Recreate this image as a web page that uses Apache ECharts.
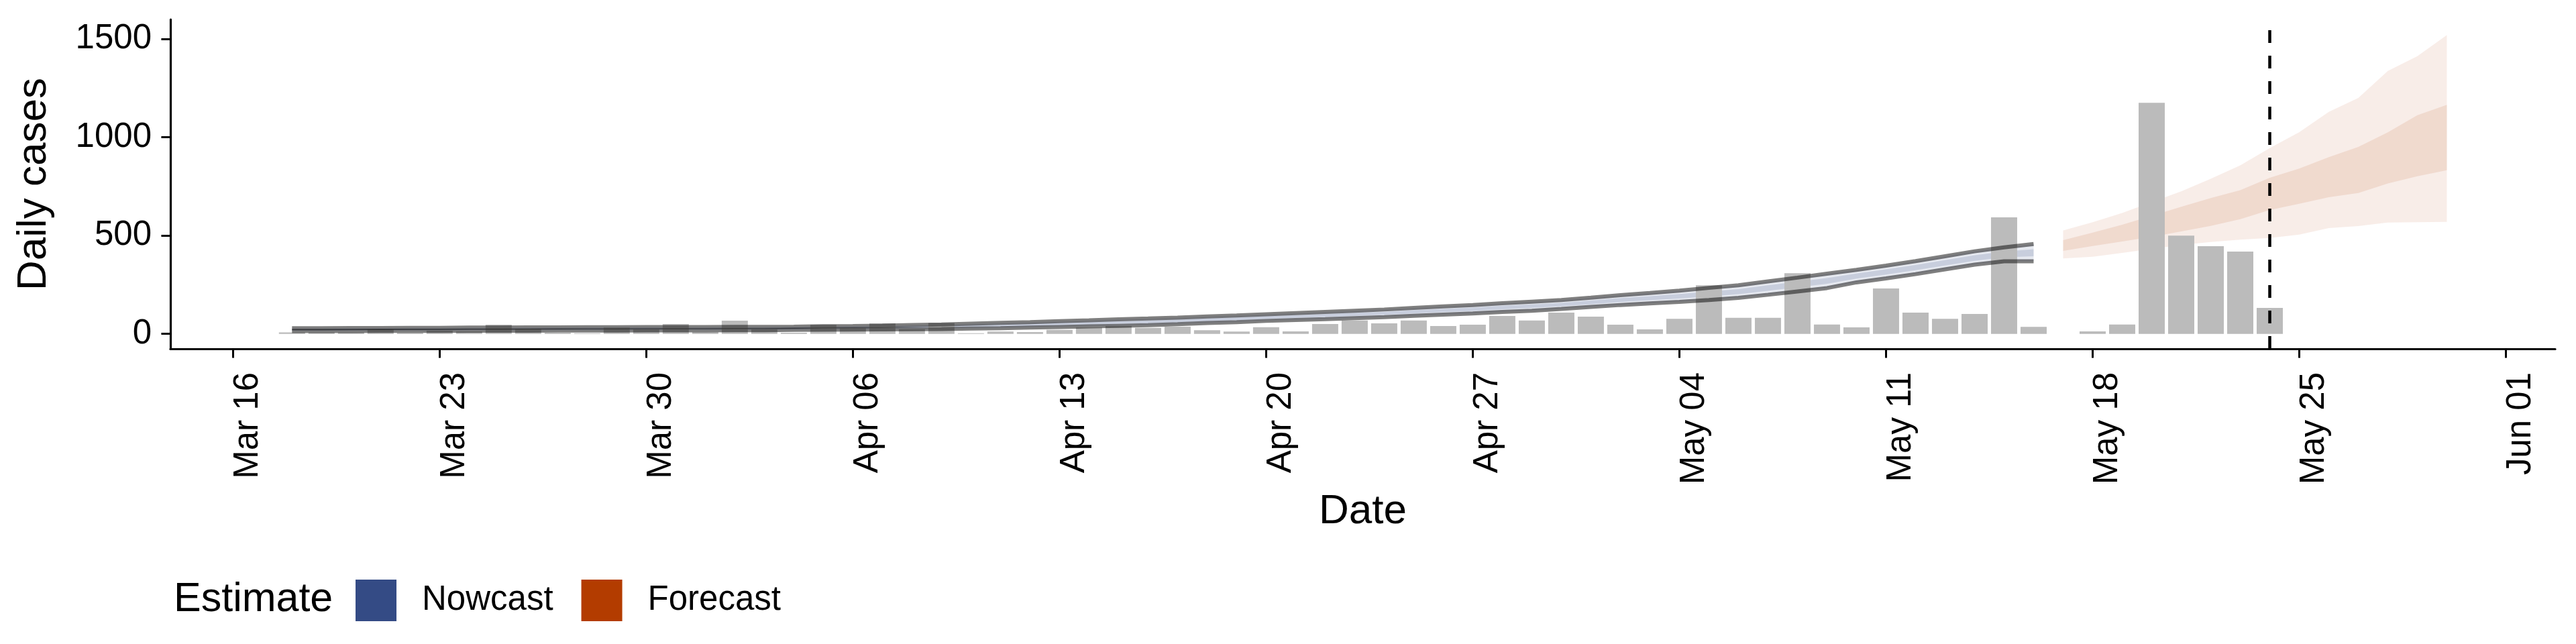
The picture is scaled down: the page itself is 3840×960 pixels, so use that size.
<!DOCTYPE html>
<html>
<head>
<meta charset="utf-8">
<script src="https://cdn.jsdelivr.net/npm/echarts@6/dist/echarts.min.js"></script>
<style>html,body{margin:0;padding:0;background:#fff}#chart{width:3840px;height:960px}</style>
</head>
<body>
<div id="chart"></div>
<script>
// ---- data ----
const tickDates = ['2020-03-16','2020-03-23','2020-03-30','2020-04-06','2020-04-13','2020-04-20','2020-04-27','2020-05-04','2020-05-11','2020-05-18','2020-05-25','2020-06-01'];
const tickLabels = ['Mar 16','Mar 23','Mar 30','Apr 06','Apr 13','Apr 20','Apr 27','May 04','May 11','May 18','May 25','Jun 01'];
const yTicks = [0, 500, 1000, 1500];

const caseStart = '2020-03-18';
const dailyCases = [8,8,8,23,6,16,12,47,26,6,
  3,32,23,50,9,67,24,6,46,31,
  54,24,55,3,12,9,20,32,40,31,
  37,19,12,34,13,50,68,54,68,40,
  47,91,68,108,88,47,23,77,247,82,
  82,309,48,33,231,108,77,101,593,36,
  null,13,48,1175,500,446,419,132];

const nowcastStart = '2020-03-18';
const nowLower90 = [14,14,14,15,15,15,16,16,16,17, 17,17,18,18,18,19,19,20,21,22, 23,24,25,27,29,32,35,38,41,44, 49,55,60,66,71,75,80,85,92,98, 104,112,118,127,137,147,155,163,172,183, 199,216,233,262,282,304,328,352,369,369];
const nowUpper90 = [29,29,30,30,31,31,32,32,33,33, 34,34,35,35,35,36,36,37,39,40, 42,45,48,52,56,60,65,69,74,78, 83,89,94,100,106,112,118,124,132,140, 147,156,164,172,184,197,208,220,234,247, 267,286,306,326,347,370,395,420,440,457];
const nowLower50 = [19,19,19,20,20,20,21,21,21,22, 22,22,23,23,23,24,24,25,26,27, 29,30,32,35,37,40,44,47,51,54, 59,65,70,76,82,86,91,97,104,111, 117,125,132,141,151,162,171,180,191,202, 219,237,255,281,302,324,348,372,390,395];
const nowUpper50 = [24,24,25,25,26,26,27,27,28,28, 29,29,30,30,30,31,31,32,34,35, 36,39,41,45,48,52,56,60,64,68, 73,79,84,90,95,101,107,112,120,127, 134,143,150,158,170,182,192,203,215,228, 247,265,284,307,328,350,375,400,419,431];

const forecastStart = '2020-05-17';
const fcLower90 = [384,392,412,432,452,467,479,488,505,538,548,566,568,570];
const fcLower50 = [422,447,470,494,521,549,583,630,662,695,716,765,802,832];
const fcUpper50 = [477,515,555,600,646,691,731,794,841,899,951,1025,1112,1165];
const fcUpper90 = [526,568,615,670,725,789,857,945,1026,1129,1200,1337,1412,1520];

const estimateDate = '2020-05-24';
const legendNames = ['Nowcast', 'Forecast'];
const legendTitle = 'Estimate';

// ---- helpers ----
const FONT = "'Liberation Sans', Arial, Helvetica, sans-serif";
const NOW_COLOR = '#344b85';
const FC_COLOR = '#b33c00';
function t(s, add) {
  const d = new Date(s + 'T00:00:00');
  if (add) d.setDate(d.getDate() + add);
  return d.getTime();
}
const DAY = 864e5;
const tickTimes = tickDates.map(s => t(s));
const labelFor = v => {
  const i = tickTimes.findIndex(x => Math.abs(x - v) < DAY / 2);
  return i >= 0 ? tickLabels[i] : '';
};

const barData = [];
dailyCases.forEach((v, i) => { if (v !== null) barData.push([t(caseStart, i), v]); });

function bandSeries(name, start, lo, hi, fill) {
  const data = lo.map((v, i) => [t(start, i), v, hi[i]]);
  return {
    type: 'custom', name, data, encode: { x: 0, y: [1, 2] },
    itemStyle: { color: fill }, silent: true,
    renderItem(params, api) {
      if (params.dataIndex !== 0) return null;
      const pts = [];
      for (let i = 0; i < data.length; i++) pts.push(api.coord([data[i][0], data[i][2]]));
      for (let i = data.length - 1; i >= 0; i--) pts.push(api.coord([data[i][0], data[i][1]]));
      return { type: 'polygon', shape: { points: pts }, style: { fill: fill } };
    }
  };
}
function edgeLine(name, start, vals) {
  return {
    type: 'line', name, data: vals.map((v, i) => [t(start, i), v]),
    showSymbol: false, symbol: 'none', silent: true,
    lineStyle: { color: 'rgba(0,0,0,0.5)', width: 6 }
  };
}

const chart = echarts.init(document.getElementById('chart'), null, { renderer: 'canvas' });
const option = {
  animation: false,
  backgroundColor: '#ffffff',
  textStyle: { fontFamily: FONT },
  grid: { left: 254, right: 31, top: 29, bottom: 440, containLabel: false, outerBoundsMode: 'none' },
  xAxis: {
    type: 'value',
    min: t(tickDates[0]) - 2.12 * DAY,
    max: t(tickDates[tickDates.length - 1]) + 1.67 * DAY,
    name: 'Date', nameLocation: 'middle', nameGap: 243,
    nameTextStyle: { fontSize: 62, color: '#000', verticalAlign: 'middle', fontFamily: FONT },
    axisLine: { show: true, onZero: false, lineStyle: { color: '#000', width: 3.2 } },
    axisTick: { show: true, length: 13.6, lineStyle: { color: '#000', width: 3 }, customValues: tickTimes },
    axisLabel: {
      customValues: tickTimes, rotate: 90, margin: 35, fontSize: 51, color: '#000',
      fontFamily: FONT, verticalAlign: 'top', lineHeight: 45,
      formatter: v => labelFor(v)
    },
    splitLine: { show: false }
  },
  yAxis: {
    type: 'value', min: -76, max: 1599,
    name: 'Daily cases', nameLocation: 'middle', nameRotate: 90, nameGap: 203,
    nameTextStyle: { fontSize: 62, color: '#000', verticalAlign: 'middle', fontFamily: FONT },
    axisLine: { show: true, lineStyle: { color: '#000', width: 3.2 } },
    axisTick: { show: true, length: 13.6, lineStyle: { color: '#000', width: 3 }, customValues: yTicks },
    axisLabel: { customValues: yTicks, margin: 28, fontSize: 51, color: '#000', fontFamily: FONT,
      formatter: v => String(v) },
    splitLine: { show: false }
  },
  legend: {
    left: 530, top: 864, padding: 0, itemWidth: 61, itemHeight: 62, itemGap: 42,
    icon: 'rect', selectedMode: false,
    textStyle: { fontSize: 51, color: '#000', fontFamily: FONT, padding: [0, 0, 0, 33] },
    data: [
      { name: legendNames[0], itemStyle: { color: NOW_COLOR } },
      { name: legendNames[1], itemStyle: { color: FC_COLOR } }
    ]
  },
  graphic: [{
    type: 'text', left: 259, top: 895 - 31,
    style: { text: legendTitle, fontSize: 61, fill: '#000', font: '61px ' + FONT }
  }],
  series: [
    {
      type: 'bar', name: 'Reported', data: barData, barWidth: 39, silent: true,
      itemStyle: { color: '#bbbbbb' },
      markLine: {
        silent: true, symbol: ['none', 'none'], label: { show: false },
        lineStyle: { color: '#000', width: 4.5, type: [19, 19] },
        data: [{ xAxis: t(estimateDate) }]
      }
    },
    bandSeries('Nowcast', nowcastStart, nowLower90, nowUpper90, 'rgba(52,75,133,0.12)'),
    bandSeries('Nowcast', nowcastStart, nowLower50, nowUpper50, 'rgba(52,75,133,0.17)'),
    edgeLine('Nowcast upper', nowcastStart, nowUpper90),
    edgeLine('Nowcast lower', nowcastStart, nowLower90),
    bandSeries('Forecast', forecastStart, fcLower90, fcUpper90, 'rgba(179,60,0,0.09)'),
    bandSeries('Forecast', forecastStart, fcLower50, fcUpper50, 'rgba(179,60,0,0.11)')
  ]
};
chart.setOption(option);
</script>
</body>
</html>
